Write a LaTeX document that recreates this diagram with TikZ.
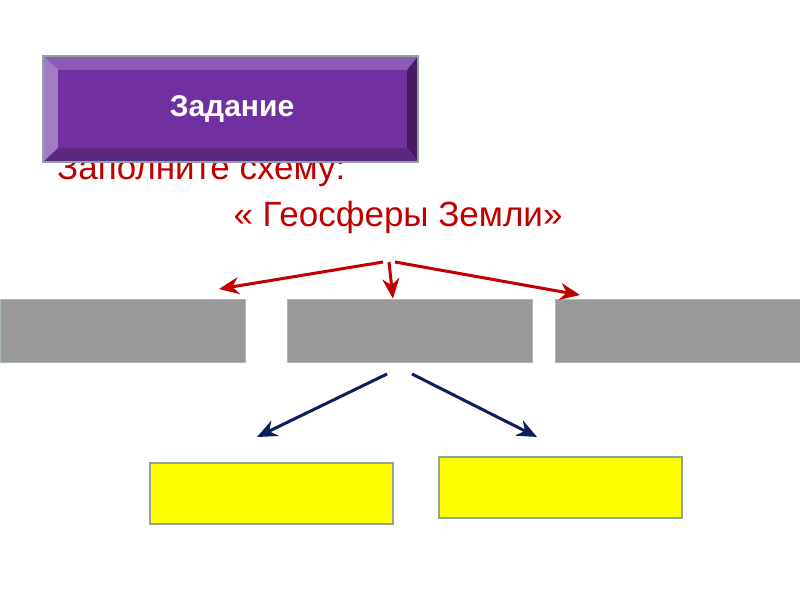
\documentclass[tikz,border=0pt]{standalone}
\usepackage{fontspec}
\setmainfont{Liberation Sans}
\usetikzlibrary{arrows.meta}
\definecolor{btnface}{HTML}{7030A0}
\definecolor{btntop}{HTML}{8C5CB4}
\definecolor{btnleft}{HTML}{A07CC4}
\definecolor{btnright}{HTML}{481A62}
\definecolor{btnbottom}{HTML}{5C2882}
\definecolor{btnline}{HTML}{8FA3A3}
\definecolor{headred}{HTML}{C00000}
\definecolor{arrnavy}{HTML}{0A1F5C}
\definecolor{boxgray}{HTML}{999999}
\definecolor{boxline}{HTML}{A8BABA}
\definecolor{boxyellow}{HTML}{FFFF00}
\begin{document}
\begin{tikzpicture}[x=1pt, y=-1pt, >={Stealth[length=20pt,width=17pt]},
  graybox/.style={fill=boxgray, draw=boxline, line width=0.8pt, minimum width=245pt, minimum height=63pt, inner sep=0pt},
  yellowbox/.style={fill=boxyellow, draw=btnline, line width=2pt, minimum width=243pt, minimum height=61pt, inner sep=0pt},
  redarrow/.style={->, draw=headred, line width=3pt},
  bluearrow/.style={->, draw=arrnavy, line width=3pt}]
\useasboundingbox (0,0) rectangle (800,600);
\node[anchor=base west, text=headred, font=\fontsize{35}{40}\selectfont, inner sep=0pt] (task) at (57,179) {Заполните схему:};
% button
\fill[btntop] (43,56) -- (418,56) -- (407,70) -- (58,70) -- cycle;
\fill[btnleft] (43,56) -- (58,70) -- (58,148) -- (43,162) -- cycle;
\fill[btnright] (418,56) -- (418,162) -- (407,148) -- (407,70) -- cycle;
\fill[btnbottom] (43,162) -- (418,162) -- (407,148) -- (58,148) -- cycle;
\fill[btnface] (58,70) rectangle (407,148);
\draw[btnline, line width=1.6pt] (43,56) rectangle (418,162);
\node[text=white, font=\fontsize{30}{34}\selectfont\bfseries] (btn) at (232,109) {Задание};
\node[anchor=base, text=headred, font=\fontsize{35}{40}\selectfont, inner sep=0pt] (title) at (398,226) {« Геосферы Земли»};
\node[graybox] (a) at (122.5,330.5) {};
\node[graybox] (b) at (409.5,330.5) {};
\node[graybox] (c) at (677.5,330.5) {};
\node[yellowbox] (d) at (271.5,493) {};
\node[yellowbox] (e) at (560,487) {};
\coordinate (r1) at (383,262);
\coordinate (r2) at (389,262);
\coordinate (r3) at (395,262);
\coordinate (rl) at (219,289);
\coordinate (rr) at (580,295);
\coordinate (b1) at (387,374);
\coordinate (b2) at (412,374);
\coordinate (bl) at (257,437);
\coordinate (br) at (537,437);
\draw[redarrow] (r1) -- (rl);
\draw[redarrow] (r2) -- (b.north -| 393,0);
\draw[redarrow] (r3) -- (rr);
\draw[bluearrow] (b1) -- (bl);
\draw[bluearrow] (b2) -- (br);
\end{tikzpicture}
\end{document}
